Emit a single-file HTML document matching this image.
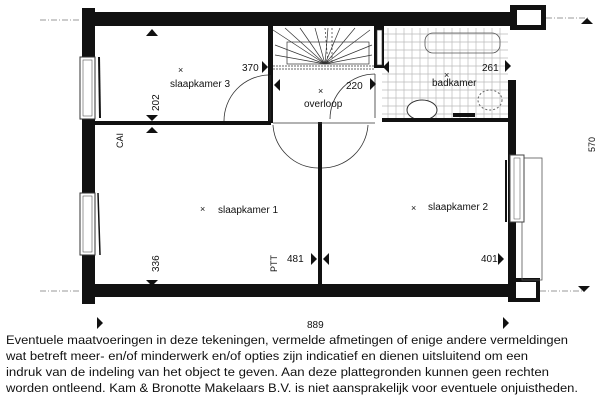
<!DOCTYPE html>
<html><head><meta charset="utf-8"><style>
html,body{margin:0;padding:0;background:#fff;}
svg{display:block;}
text{font-family:"Liberation Sans",sans-serif;fill:#111;}
</style></head><body>
<svg width="600" height="400" viewBox="0 0 600 400" xmlns="http://www.w3.org/2000/svg">
<rect width="600" height="400" fill="#fff"/>
<!-- bathroom tiles -->
<g stroke="#bbb" stroke-width="0.7">
<path d="M388 28V118M396 28V118M404 28V118M412 28V118M420 28V118M428 28V118M436 28V118M444 28V118M452 28V118M460 28V118M468 28V118M476 28V118M484 28V118M492 28V118M500 28V118"/>
<path d="M382 34H508M382 42H508M382 50H508M382 58H508M382 66H508M382 74H508M382 82H508M382 90H508M382 98H508M382 106H508M382 114H508"/>
</g>
<rect x="425" y="33" width="75" height="20" rx="8" fill="none" stroke="#555" stroke-width="0.8"/>
<ellipse cx="422" cy="110" rx="15" ry="10" fill="#fff" stroke="#333"/>
<ellipse cx="490" cy="100" rx="12" ry="10" fill="none" stroke="#666" stroke-dasharray="2,2"/>
<rect x="453" y="113" width="22" height="4" fill="#111"/>
<!-- walls -->
<g fill="#111">
<rect x="82" y="12" width="430" height="14"/>
<rect x="82" y="8" width="13" height="296"/>
<rect x="82" y="284" width="427" height="13"/>
<rect x="508" y="80" width="8" height="222"/>
<rect x="510" y="5" width="36" height="25"/>
<rect x="95" y="121" width="176" height="4"/>
<rect x="268" y="26" width="5" height="97"/>
<rect x="374" y="26" width="10" height="42"/>
<rect x="382" y="118" width="130" height="4"/>
<rect x="318" y="122" width="4" height="163"/>
<rect x="512" y="278" width="28" height="24"/>
</g>
<rect x="517" y="10" width="24" height="15" fill="#fff"/>
<rect x="516" y="282" width="20" height="16" fill="#fff"/>
<rect x="522" y="158" width="20" height="122" fill="none" stroke="#555" stroke-width="0.8"/>
<rect x="510" y="155" width="14" height="67" fill="#fff" stroke="#444"/>
<rect x="514" y="158" width="6" height="61" fill="#fff" stroke="#666" stroke-width="0.6"/>
<line x1="506" y1="160" x2="506" y2="222" stroke="#111" stroke-width="2"/>
<rect x="377" y="30" width="5" height="35" fill="#fff" stroke="#333" stroke-width="0.6"/>
<!-- left windows -->
<rect x="80" y="57" width="15" height="62" fill="#fff" stroke="#333"/>
<rect x="83" y="60" width="9" height="56" fill="#fff" stroke="#555" stroke-width="0.6"/>
<line x1="99" y1="57" x2="100" y2="118" stroke="#111" stroke-width="2"/>
<rect x="80" y="193" width="15" height="62" fill="#fff" stroke="#333"/>
<rect x="83" y="196" width="9" height="56" fill="#fff" stroke="#555" stroke-width="0.6"/>
<line x1="98" y1="193" x2="100" y2="255" stroke="#111" stroke-width="1.5"/>
<!-- stairs -->
<g stroke="#333" stroke-width="0.7" fill="none">
<line x1="273" y1="66" x2="374" y2="66" stroke-dasharray="2,1"/>
<line x1="273" y1="69" x2="374" y2="69" stroke-dasharray="2,1"/>
<path d="M325 64L273 30M325 64L285 28M325 64L300 28M325 64L315 28M325 64L328 28M325 64L340 28M325 64L355 28M325 64L370 30M325 64L372 45M325 64L372 55M325 64L275 45M325 64L275 55"/>
<rect x="287" y="42" width="82" height="22"/>
<line x1="325" y1="28" x2="328" y2="64" stroke-dasharray="2,2"/>
<line x1="332" y1="28" x2="332" y2="64" stroke-dasharray="2,2"/>
</g>
<!-- doors -->
<g stroke="#333" stroke-width="0.8" fill="none">
<path d="M224 121 A46 46 0 0 1 268 75"/>
<line x1="270" y1="75" x2="270" y2="121"/>
<path d="M330 119 A45 45 0 0 1 375 74"/>
<line x1="375" y1="74" x2="375" y2="118"/>
<path d="M273 125 A46 46 0 0 0 318 168"/>
<path d="M322 168 A46 46 0 0 0 368 125"/>
<line x1="273" y1="123" x2="375" y2="123"/>
</g>
<!-- markers -->
<g fill="#111">
<path d="M152 29L158 36H146Z"/>
<path d="M146 115H158L152 121Z"/>
<path d="M146 133H158L152 127Z"/>
<path d="M262 61L268 67L262 73Z"/>
<path d="M280 79L274 85L280 91Z"/>
<path d="M389 61L383 67L389 73Z"/>
<path d="M370 78L376 84L370 90Z"/>
<path d="M505 60L511 66L505 72Z"/>
<path d="M146 280H158L152 286Z"/>
<path d="M311 253L317 259L311 265Z"/>
<path d="M329 253L323 259L329 265Z"/>
<path d="M498 253L504 259L498 265Z"/>
<path d="M103 323L97 329V317Z"/>
<path d="M503 317L509 323L503 329Z"/>
<path d="M587 18L593 24H581Z"/>
<path d="M578 286H590L584 292Z"/>
</g>
<g stroke="#333" stroke-width="0.6" fill="none" stroke-dasharray="6,2,1,2">
<line x1="40" y1="20" x2="80" y2="20"/>
<line x1="546" y1="18" x2="590" y2="18"/>
<line x1="40" y1="291" x2="80" y2="291"/>
<line x1="540" y1="291" x2="585" y2="291"/>
</g>
<!-- labels -->
<g font-size="10">
<text x="178" y="73" font-size="9">×</text>
<text x="170" y="87">slaapkamer 3</text>
<text x="318" y="94" font-size="9">×</text>
<text x="304" y="107">overloop</text>
<text x="444" y="78" font-size="9">×</text>
<text x="432" y="86">badkamer</text>
<text x="200" y="212" font-size="9">×</text>
<text x="218" y="213">slaapkamer 1</text>
<text x="411" y="211" font-size="9">×</text>
<text x="428" y="210">slaapkamer 2</text>
<text x="242" y="71">370</text>
<text x="346" y="89">220</text>
<text x="482" y="71">261</text>
<text x="287" y="262">481</text>
<text x="481" y="262">401</text>
<text x="307" y="328">889</text>
<text transform="translate(159,111) rotate(-90)">202</text>
<text transform="translate(159,272) rotate(-90)">336</text>
<text transform="translate(277,272) rotate(-90)" font-size="9">PTT</text>
<text transform="translate(123,148) rotate(-90)" font-size="9">CAI</text>
<text transform="translate(595,152) rotate(-90)" font-size="9">570</text>
</g>
<g font-size="12.2">
<text x="6" y="344" textLength="562" lengthAdjust="spacingAndGlyphs">Eventuele maatvoeringen in deze tekeningen, vermelde afmetingen of enige andere vermeldingen</text>
<text x="6" y="360" textLength="522" lengthAdjust="spacingAndGlyphs">wat betreft meer- en/of minderwerk en/of opties zijn indicatief en dienen uitsluitend om een</text>
<text x="6" y="376" textLength="543" lengthAdjust="spacingAndGlyphs">indruk van de indeling van het object te geven. Aan deze plattegronden kunnen geen rechten</text>
<text x="6" y="392" textLength="572" lengthAdjust="spacingAndGlyphs">worden ontleend. Kam &amp; Bronotte Makelaars B.V. is niet aansprakelijk voor eventuele onjuistheden.</text>
</g>
</svg>
</body></html>
